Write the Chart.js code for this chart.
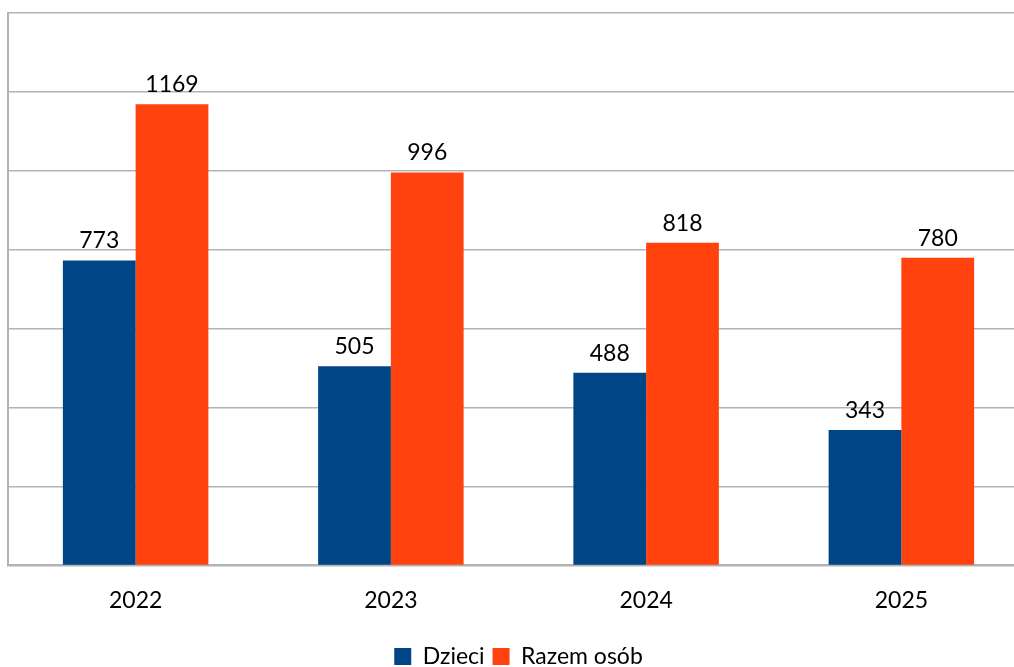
<!DOCTYPE html>
<html>
<head>
<meta charset="utf-8">
<script src="https://cdn.jsdelivr.net/npm/chart.js@4"></script>
<style>
  html, body { margin: 0; padding: 0; background: #fff; overflow: hidden; }
  #wrap { position: relative; width: 1030px; height: 678px; }
</style>
</head>
<body>
<div id="wrap"><canvas id="barChart"></canvas></div>
<script>
let lata = ["2022", "2023", "2024", "2025"];
let dzieci = [773, 505, 488, 343];
let razemOsob = [1169, 996, 818, 780];

// etykiety wartosci nad slupkami
const etykiety = {
    id: "etykiety",
    afterDatasetsDraw(chart) {
        const ctx = chart.ctx;
        ctx.save();
        ctx.font = "23px Lato";
        ctx.fillStyle = "#000";
        ctx.textAlign = "center";
        ctx.textBaseline = "bottom";
        chart.data.datasets.forEach((ds, i) => {
            chart.getDatasetMeta(i).data.forEach((bar, j) => {
                ctx.fillText(ds.data[j], bar.x, bar.y - 8);
            });
        });
        ctx.restore();
    }
};

var ctx = document.getElementById("barChart").getContext("2d");

var barChart = new Chart(ctx, {
    type: "bar",
    data: {
        labels: lata,
        datasets: [{
            label: "Dzieci",
            data: dzieci,
            backgroundColor: "#004586",
        }, {
            label: "Razem osób",
            data: razemOsob,
            backgroundColor: "#ff420e",
        }, ],
    },
    options: {
        responsive: true,
        maintainAspectRatio: false,
        animation: false,
        layout: { padding: { left: 8, top: 13, right: 1, bottom: 0 } },
        datasets: {
            bar: { categoryPercentage: 0.57, barPercentage: 1.0 }
        },
        scales: {
            x: {
                grid: { display: false },
                border: { color: "#b3b3b3", width: 2 },
                ticks: { color: "#000", font: { family: "Lato", size: 23 }, padding: 13 },
                afterFit: function(scale) { scale.height += 10; },
            },
            y: {
                min: 0,
                max: 1400,
                ticks: { display: false, stepSize: 200 },
                grid: { color: "#b3b3b3", lineWidth: 1.5, drawTicks: false },
                border: { color: "#b3b3b3", width: 2 },
            },
        },
        plugins: {
            tooltip: { enabled: false },
            legend: {
                position: "bottom",
                labels: {
                    color: "#000",
                    font: { family: "Lato", size: 23 },
                    boxWidth: 17,
                    boxHeight: 17,
                    padding: 8,
                },
            },
        },
    },
    plugins: [etykiety],
});
</script>
</body>
</html>
